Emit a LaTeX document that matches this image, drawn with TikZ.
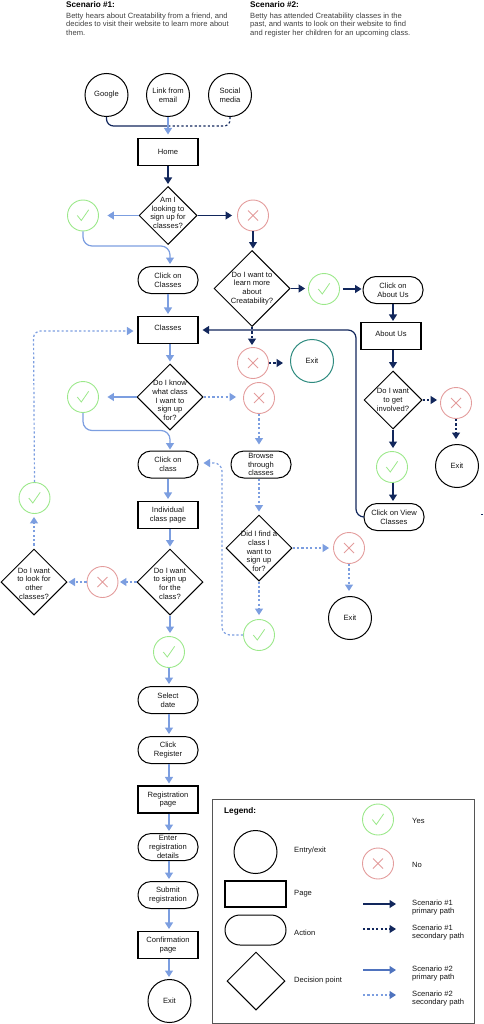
\documentclass[tikz,border=0pt]{standalone}
\usepackage{fontspec}
\setmainfont{Liberation Sans}
\usetikzlibrary{arrows.meta,shapes.geometric}
\definecolor{navypath}{HTML}{12275C}
\definecolor{bluepath}{HTML}{7C9EE0}
\definecolor{legendblue}{HTML}{4F73BE}
\definecolor{yesgreen}{HTML}{9BE88A}
\definecolor{nored}{HTML}{E39C9C}
\definecolor{exitteal}{HTML}{2E8B7F}
\definecolor{legendgray}{HTML}{555555}

\begin{document}
\begin{tikzpicture}[x=1pt,y=-1pt,
	every node/.style={font=\fontsize{7.6}{8.7}\selectfont, text=black!92, align=center, inner sep=0pt},
	>={Triangle[length=6.5pt,width=8pt]},
	entry/.style={circle, draw=black, line width=1pt, minimum size=43pt},
	page/.style={rectangle, draw=black, line width=1.1pt, minimum width=60pt, minimum height=27pt},
	action/.style={rectangle, rounded corners=13pt, draw=black, line width=1pt, minimum width=60pt, minimum height=27pt},
	decision/.style={diamond, draw=black, line width=1pt, minimum size=#1},
	yesmark/.style={circle, draw=yesgreen, line width=0.9pt, minimum size=31pt, path picture={
		\draw[yesgreen, line width=0.8pt] ([shift={(-5.7,0)}]path picture bounding box.center) -- ++(4,5) -- ++(7.4,-10.7);}},
	nomark/.style={circle, draw=nored, line width=0.9pt, minimum size=31pt, path picture={
		\draw[nored, line width=0.8pt] ([shift={(-5,-5)}]path picture bounding box.center) -- ++(10,10) ++(-10,0) -- ++(10,-10);}},
	oneprimary/.style={->, navypath, line width=1.2pt},
	onesecondary/.style={->, navypath, line width=1.2pt, dash pattern=on 2.2pt off 2.2pt},
	twoprimary/.style={->, bluepath, line width=1.2pt},
	twosecondary/.style={->, bluepath, line width=1.2pt, dash pattern=on 2.2pt off 2.2pt},
	]
	\useasboundingbox (0,0) rectangle (483,1024);

	\node[anchor=north west, align=left, font=\fontsize{8.2}{9}\selectfont\bfseries, text=black] (titleone) at (66,1) {Scenario \#1:};
	\node[anchor=north west, align=left, text=black!75] (textone) at (66,12.5) {Betty hears about Creatability from a friend, and\\decides to visit their website to learn more about\\them.};
	\node[anchor=north west, align=left, font=\fontsize{8.2}{9}\selectfont\bfseries, text=black] (titletwo) at (250,1) {Scenario \#2:};
	\node[anchor=north west, align=left, text=black!75] (texttwo) at (250,12.5) {Betty has attended Creatability classes in the\\past, and wants to look on their website to find\\and register her children for an upcoming class.};

	\node[entry] (google) at (106.5,95) {Google};
	\node[entry] (email) at (168,95) {Link from\\email};
	\node[entry] (social) at (230,95) {Social\\media};
	\node[page] (home) at (168,152) {Home};
	\node[decision=58pt, label={[yshift=2.5pt]center:{Am I\\looking to\\sign up for\\classes?}}] (signup) at (168,215.5) {};
	\node[yesmark] (signupyes) at (83,215.5) {};
	\node[nomark] (signupno) at (253,215.5) {};
	\node[action] (clickclasses) at (168,280) {Click on\\Classes};
	\node[decision=76pt, label={center:{Do I want to\\learn more\\about\\Creatability?}}] (learn) at (252,288.5) {};
	\node[yesmark] (learnyes) at (324,289) {};
	\node[nomark] (learnno) at (253,363) {};
	\node[action] (clickabout) at (393,290) {Click on\\About Us};
	\node[page, label={[yshift=2pt]center:Classes}] (classes) at (168,330) {};
	\node[page, label={[yshift=2pt]center:About Us}] (about) at (391,336) {};
	\node[entry, draw=exitteal] (exitlearn) at (312,361) {Exit};
	\node[decision=66pt, label={[yshift=-3.5pt]center:{Do I know\\what class\\I want to\\sign up\\for?}}] (know) at (170,397) {};
	\node[yesmark] (knowyes) at (83,397) {};
	\node[nomark] (knowno) at (259,398) {};
	\node[decision=58pt, label={center:{Do I want\\to get\\involved?}}] (involved) at (393,400) {};
	\node[nomark] (involvedno) at (456,403) {};
	\node[entry] (exitinvolved) at (457,466) {Exit};
	\node[yesmark] (involvedyes) at (392,467) {};
	\node[action] (clickclass) at (168,464.5) {Click on\\class};
	\node[action] (browse) at (261,464.5) {Browse\\through\\classes};
	\node[yesmark] (otheryes) at (34.5,498) {};
	\node[page] (individual) at (168,515) {Individual\\class page};
	\node[action] (clickview) at (394,517) {Click on View\\Classes};
	\node[decision=66pt, label={[yshift=-3.5pt]center:{Did I find a\\class I\\want to\\sign up\\for?}}] (find) at (259,548) {};
	\node[nomark] (findno) at (349,548) {};
	\node[entry] (exitfind) at (350,618) {Exit};
	\node[yesmark] (findyes) at (259,635) {};
	\node[decision=66pt, label={[yshift=-1.5pt]center:{Do I want\\to sign up\\for the\\class?}}] (wantclass) at (170,582) {};
	\node[nomark] (wantno) at (102.5,582) {};
	\node[decision=66pt, label={[yshift=-1.5pt]center:{Do I want\\to look for\\other\\classes?}}] (other) at (34,582) {};
	\node[yesmark] (wantyes) at (169,652) {};
	\node[action] (selectdate) at (168,700) {Select\\date};
	\node[action] (clickregister) at (168,750) {Click\\Register};
	\node[page] (regpage) at (168,799.5) {Registration\\page};
	\node[action] (enter) at (168,847) {Enter\\registration\\details};
	\node[action] (submit) at (168,895) {Submit\\registration};
	\node[page] (confirm) at (168,945) {Confirmation\\page};
	\node[entry] (exitmain) at (169.5,1001) {Exit};

	\coordinate (homejoin) at (168.5,126);
	\draw[oneprimary, -, rounded corners=7pt] (google.south) |- (homejoin);
	\draw[onesecondary, -, rounded corners=6pt] (social.south) |- (homejoin);
	\draw[twoprimary, shorten >=3.5pt] (email.south) -- (email.south |- home.north);
	\draw[oneprimary, shorten >=2pt] (home.south) -- (signup.north);
	\draw[twoprimary, shorten >=8.5pt] (signup.west) -- (signupyes.east);
	\draw[oneprimary, shorten >=5pt] (signup.east) -- (signupno.west);
	\draw[oneprimary, shorten >=1.5pt] (signupno.south) -- (signupno.south |- learn.north);
	\coordinate (signupturn) at (170,246);
	\draw[twoprimary, shorten >=2pt, rounded corners=9pt] (signupyes.south) |- (signupturn) -- (signupturn |- clickclasses.north);
	\draw[twoprimary, shorten >=2pt] (clickclasses.south) -- (classes.north);
	\draw[oneprimary, shorten >=3pt] (learn.east) -- (learn.east -| learnyes.west);
	\draw[oneprimary, shorten <=3pt, shorten >=1pt] (learnyes.east) -- (learnyes.east -| clickabout.west);
	\draw[oneprimary, shorten >=1pt] (clickabout.south) -- (clickabout.south |- about.north);
	\draw[oneprimary, shorten >=2pt] (about.south -| involved.north) -- (involved.north);
	\draw[onesecondary, shorten >=2pt] (learn.south) -- (learn.south |- learnno.north);
	\draw[onesecondary, shorten >=7pt] (learnno.east) -- (learnno.east -| exitlearn.west);
	\draw[onesecondary, shorten >=3pt] (involved.east) -- (involved.east -| involvedno.west);
	\draw[onesecondary, shorten >=5pt] (involvedno.south) -- (involvedno.south |- exitinvolved.north);
	\draw[oneprimary, shorten >=3pt] (involved.south) -- (involved.south |- involvedyes.north);
	\draw[oneprimary, shorten >=2pt] (involvedyes.south -| involved.south) -- (involved.south |- clickview.north);
	\coordinate (viewturn) at (356,330);
	\draw[oneprimary, shorten >=4pt, rounded corners=8pt] (clickview.west) -| (viewturn) -- (classes.east);
	\draw[twoprimary, shorten >=2pt] (classes.south -| know.north) -- (know.north);
	\draw[twoprimary, shorten >=8.5pt] (know.west) -- (knowyes.east);
	\draw[twosecondary, shorten >=7pt] (know.east) -- (know.east -| knowno.west);
	\draw[twosecondary, shorten >=6pt] (knowno.south) -- (knowno.south |- browse.north);
	\coordinate (knowturn) at (170,430.5);
	\draw[twoprimary, shorten >=1pt, rounded corners=9pt] (knowyes.south) |- (knowturn) -- (knowturn |- clickclass.north);
	\draw[twoprimary, shorten >=2pt] (clickclass.south) -- (individual.north);
	\draw[twoprimary, shorten >=2pt] (individual.south -| wantclass.north) -- (wantclass.north);
	\draw[twosecondary, shorten >=1.5pt] (wantclass.west) -- (wantno.east);
	\draw[twosecondary, shorten >=1pt] (wantno.west) -- (other.east);
	\draw[twosecondary, shorten <=3pt, shorten >=3pt] (other.north) -- (other.north |- otheryes.south);
	\coordinate (otherturn) at (33.5,331);
	\draw[twosecondary, shorten >=4pt, rounded corners=7pt] (otheryes.north) -- (otherturn) -- (classes.west |- otherturn);
	\draw[twosecondary, shorten >=3pt] (browse.south -| find.north) -- (find.north);
	\draw[twosecondary, shorten >=4pt] (find.east) -- (findno.west);
	\draw[twosecondary, shorten >=5pt] (findno.south) -- (findno.south |- exitfind.north);
	\draw[twosecondary, shorten >=4pt] (find.south) -- (findyes.north);
	\coordinate (findturn) at (222,463);
	\draw[twosecondary, shorten >=5pt, rounded corners=8pt] (findyes.west) -| (findturn) -- (clickclass.east |- findturn);
	\draw[twoprimary, shorten >=3pt] (wantclass.south) -- (wantclass.south |- wantyes.north);
	\draw[twoprimary, shorten >=2pt] (wantyes.south) -- (wantyes.south |- selectdate.north);
	\draw[twoprimary, shorten >=2pt] (selectdate.south -| wantyes.south) -- (wantyes.south |- clickregister.north);
	\draw[twoprimary, shorten >=2pt] (clickregister.south -| wantyes.south) -- (wantyes.south |- regpage.north);
	\draw[twoprimary, shorten >=2pt] (regpage.south -| wantyes.south) -- (wantyes.south |- enter.north);
	\draw[twoprimary, shorten >=2pt] (enter.south -| wantyes.south) -- (wantyes.south |- submit.north);
	\draw[twoprimary, shorten >=2pt] (submit.south -| wantyes.south) -- (wantyes.south |- confirm.north);
	\draw[twoprimary, shorten >=2pt] (confirm.south -| wantyes.south) -- (wantyes.south |- exitmain.north);

	\draw[legendgray, line width=0.8pt] (212,799) rectangle (474,1023);
	\node[anchor=west, font=\fontsize{8.2}{9}\selectfont\bfseries, text=black] (legendtitle) at (224,811) {Legend:};
	\node[entry] (legendentry) at (255.5,852) {};
	\node[page, minimum width=61pt, minimum height=26pt] (legendpage) at (255.5,894) {};
	\node[action, minimum width=61pt, minimum height=30pt, rounded corners=15pt] (legendaction) at (255.5,930) {};
	\node[decision=58pt] (legenddecision) at (256,981) {};
	\node[anchor=west] (labelentry) at (294,850.5) {Entry/exit};
	\node[anchor=west] (labelpage) at (294,894) {Page};
	\node[anchor=west] (labelaction) at (294,932.5) {Action};
	\node[anchor=west] (labeldecision) at (294,981) {Decision point};
	\node[yesmark] (legendyes) at (378,819.5) {};
	\node[nomark] (legendno) at (378,863.5) {};
	\node[anchor=west] (labelyes) at (412,821) {Yes};
	\node[anchor=west] (labelno) at (412,864.5) {No};
	\coordinate (oneprimarya) at (363,904);
	\coordinate (oneprimaryb) at (396,904);
	\coordinate (onesecondarya) at (363,929);
	\coordinate (onesecondaryb) at (396,929);
	\coordinate (twoprimarya) at (363,970);
	\coordinate (twoprimaryb) at (396,970);
	\coordinate (twosecondarya) at (363,995);
	\coordinate (twosecondaryb) at (396,995);
	\draw[oneprimary] (oneprimarya) -- (oneprimaryb);
	\draw[onesecondary] (onesecondarya) -- (onesecondaryb);
	\draw[oneprimary, legendblue] (twoprimarya) -- (twoprimaryb);
	\draw[twosecondary, -{Triangle[length=6.5pt,width=8pt,fill=legendblue,color=legendblue]}] (twosecondarya) -- (twosecondaryb);
	\node[anchor=west, align=left] (labelonep) at (412,907.5) {Scenario \#1\\primary path};
	\node[anchor=west, align=left] (labelones) at (412,932.5) {Scenario \#1\\secondary path};
	\node[anchor=west, align=left] (labeltwop) at (412,973.5) {Scenario \#2\\primary path};
	\node[anchor=west, align=left] (labeltwos) at (412,998.5) {Scenario \#2\\secondary path};

	\coordinate (ticka) at (481,514);
	\coordinate (tickb) at (483,514);
	\draw[navypath, line width=0.6pt] (ticka) -- (tickb);
\end{tikzpicture}
\end{document}
